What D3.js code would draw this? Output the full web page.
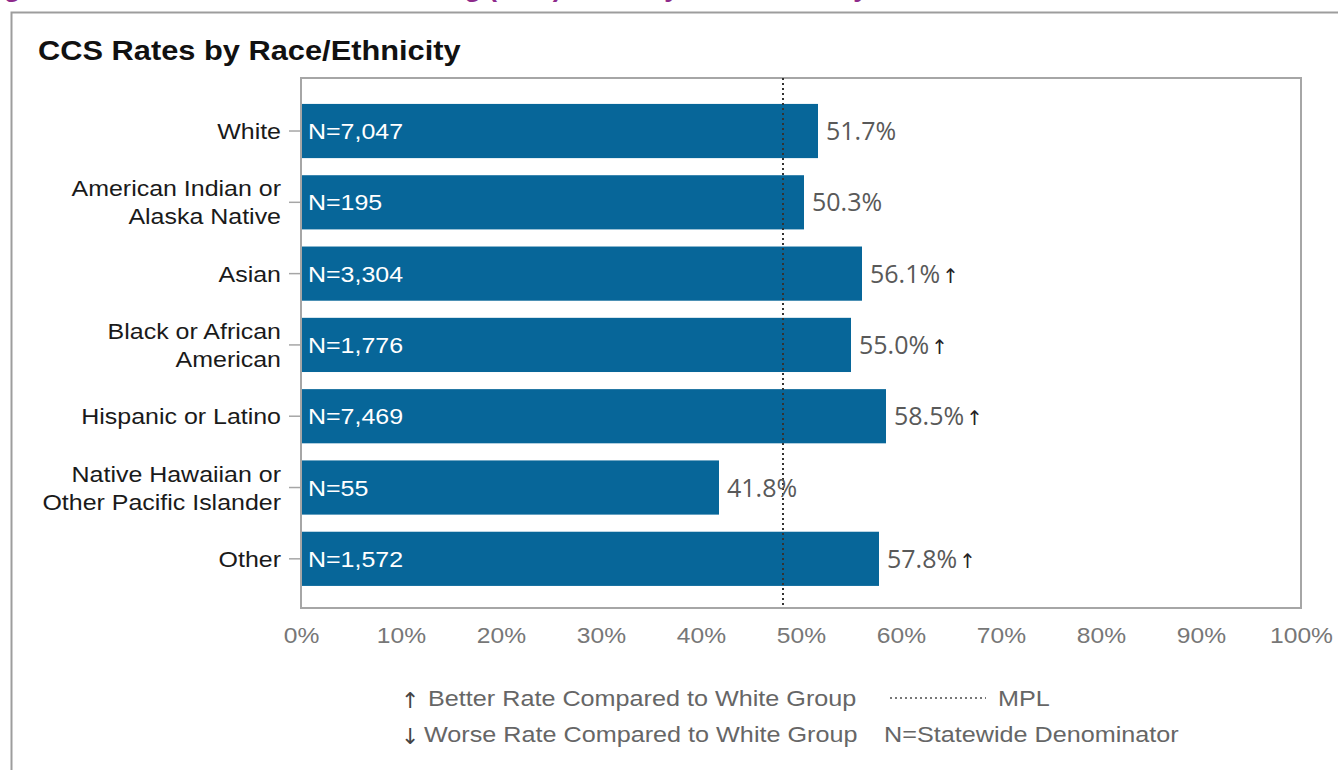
<!DOCTYPE html>
<html><head><meta charset="utf-8">
<script src="https://cdn.jsdelivr.net/npm/d3@7"></script>
<style>body{margin:0;background:#fff;}svg{display:block;}</style>
</head><body>
<svg id="c" width="1338" height="770"></svg>
<script>
const categories = [["White"],["American Indian or","Alaska Native"],["Asian"],["Black or African","American"],["Hispanic or Latino"],["Native Hawaiian or","Other Pacific Islander"],["Other"]];
const rates = [51.7, 50.3, 56.1, 55.0, 58.5, 41.8, 57.8];
const denominators = ["7,047","195","3,304","1,776","7,469","55","1,572"];
const comparison = ["", "", "up", "up", "up", "", "up"];
const mpl = 48.2;
const xTicks = [0,10,20,30,40,50,60,70,80,90,100];

const SX = 1.12;
const ARIAL = "Liberation Sans, Arial, sans-serif";
const svg = d3.select("#c");
const L = 301, R = 1301, T = 78, B = 608;
const x = d3.scaleLinear().domain([0,100]).range([L,R]);
const y = d3.scaleBand().domain(d3.range(categories.length)).range([T,B])
  .paddingInner(0.24).paddingOuter(0.3366).align(0.54);

function stretchedText(parent, px, py, s){
  return parent.append("text").attr("transform",`translate(${px},${py}) scale(${s||SX},1)`);
}

// clipped figure title
stretchedText(svg, 868, -3.5, 1.1).attr("text-anchor","end")
  .attr("font-family",ARIAL).attr("font-weight","bold").attr("font-size",24)
  .attr("fill","#8e2a8b").text("Figure 6.10—Cervical Cancer Screening (CCS) Rates by Race/Ethnicity");

// frame
svg.append("path").attr("d","M1338,12.5H11.5V770").attr("fill","none").attr("stroke","#9d9d9d").attr("stroke-width",2);

stretchedText(svg, 38, 60).attr("font-family",ARIAL).attr("font-weight","bold")
  .attr("font-size",27.5).attr("fill","#111").text("CCS Rates by Race/Ethnicity");

// bars
svg.append("g").selectAll("rect").data(rates).join("rect")
  .attr("x", x(0)).attr("y",(d,i)=>y(i)).attr("width",d=>x(d)-x(0)).attr("height",y.bandwidth())
  .attr("fill","#076699");

// plot box
svg.append("rect").attr("x",L).attr("y",T).attr("width",R-L).attr("height",B-T)
  .attr("fill","none").attr("stroke","#a6a6a6").attr("stroke-width",2);

// y axis ticks and labels
const ya = svg.append("g").attr("transform",`translate(${L},0)`).call(d3.axisLeft(y).tickSize(12).tickFormat(""));
ya.select(".domain").remove();
ya.selectAll(".tick line").attr("stroke","#a6a6a6").attr("stroke-width",1.5);
const lg0 = svg.append("g");
categories.forEach((d,i)=>{
  const cy = y(i)+y.bandwidth()/2;
  const t = stretchedText(lg0, 281, cy).attr("text-anchor","end").attr("font-family",ARIAL)
    .attr("font-size",22.3).attr("fill","#1a1a1a");
  d.forEach((line,k)=>{
    t.append("tspan").attr("x",0).attr("dy", k===0 ? (d.length===1?8:-6) : 28).text(line);
  });
});

// N labels
const ng = svg.append("g");
denominators.forEach((d,i)=>{
  stretchedText(ng, x(0)+7, y(i)+y.bandwidth()/2+8).attr("font-family",ARIAL).attr("font-size",22.3)
    .attr("fill","#fff").text("N="+d);
});

// MPL line
svg.append("line").attr("x1",x(mpl)).attr("x2",x(mpl)).attr("y1",T).attr("y2",B)
  .attr("stroke","#333").attr("stroke-width",2).attr("stroke-dasharray","2,3");

// value labels
const vl = svg.append("g").selectAll("text").data(rates).join("text")
  .attr("x",d=>x(d)+8).attr("y",(d,i)=>y(i)+y.bandwidth()/2+9)
  .attr("font-family","Open Sans, Noto Sans, sans-serif").attr("font-size",25).attr("fill","#595959");
vl.append("tspan").text(d=>d.toFixed(1)+"%");
vl.append("tspan").attr("fill","#222").attr("dx",2).attr("font-family","DejaVu Sans").attr("font-size",20)
  .text((d,i)=>comparison[i]==="up"?"↑":comparison[i]==="down"?"↓":"");

// x axis
const xa = svg.append("g").attr("transform",`translate(0,${B})`)
  .call(d3.axisBottom(x).tickValues(xTicks).tickSize(0).tickPadding(19).tickFormat(d=>d+"%"));
xa.select(".domain").remove();
xa.selectAll("text").attr("font-family",ARIAL).attr("font-size",22).attr("fill","#777")
  .attr("transform",`scale(${SX},1)`);

// legend
const lg = svg.append("g").attr("font-family",ARIAL).attr("font-size",22.5).attr("fill","#666");
lg.append("text").attr("x",401).attr("y",708).attr("font-family","DejaVu Sans").attr("font-size",22).attr("fill","#444").text("↑");
lg.append("text").attr("x",401).attr("y",744).attr("font-family","DejaVu Sans").attr("font-size",22).attr("fill","#444").text("↓");
stretchedText(lg, 428, 706).text("Better Rate Compared to White Group");
stretchedText(lg, 424, 742).text("Worse Rate Compared to White Group");
svg.append("line").attr("x1",890).attr("x2",986).attr("y1",698).attr("y2",698)
  .attr("stroke","#777").attr("stroke-width",2).attr("stroke-dasharray","2,3");
stretchedText(lg, 998, 706).text("MPL");
stretchedText(lg, 884, 742).text("N=Statewide Denominator");
</script>
</body></html>
